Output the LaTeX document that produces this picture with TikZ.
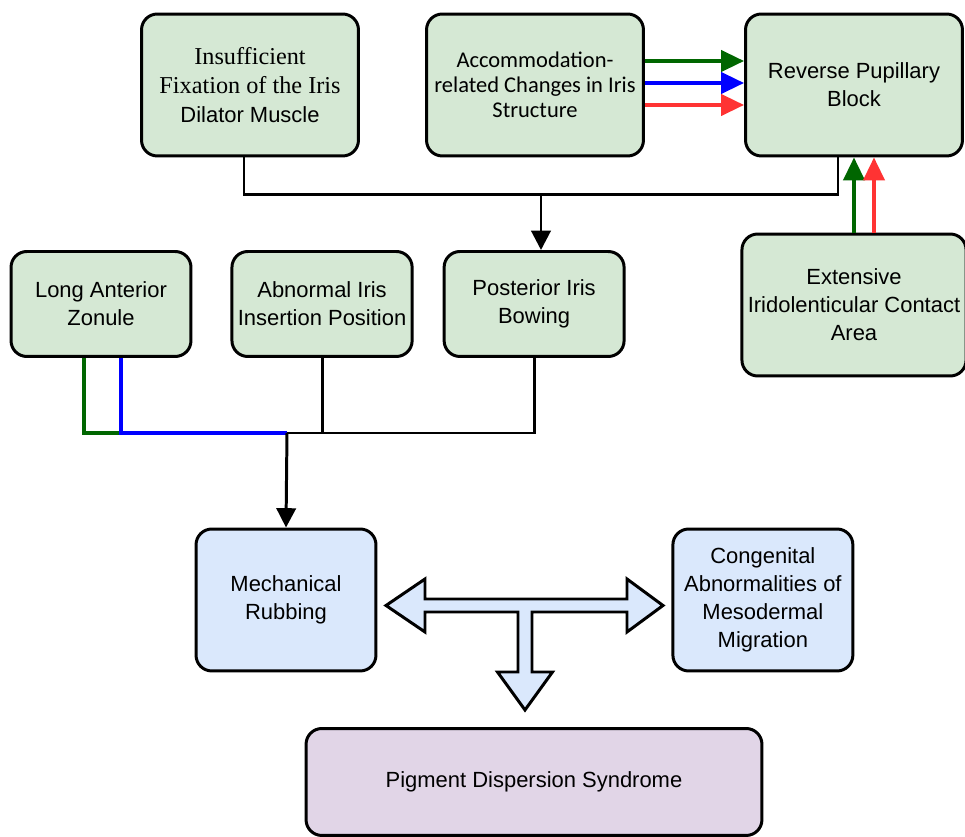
\documentclass[tikz,border=0pt]{standalone}
\usepackage{fontspec}
\setmainfont{Liberation Sans}
\newfontfamily\serifpart{Liberation Serif}
\newfontfamily\calibripart{Carlito}
\usepackage{tikz}
\usetikzlibrary{arrows.meta, positioning, calc}
\definecolor{mygreen}{RGB}{0,102,0}
\definecolor{myblue}{RGB}{0,0,255}
\definecolor{myred}{RGB}{255,51,51}
\definecolor{fillgreen}{RGB}{213,232,212}
\definecolor{fillblue}{RGB}{218,232,252}
\definecolor{fillpurple}{RGB}{225,213,231}
\tikzset{
  causebox/.style={rectangle, draw=black, fill=fillgreen,
    minimum width=4.34cm, minimum height=2.84cm, align=center,
    font=\fontsize{12.5}{16}\selectfont, rounded corners=9pt, line width=1.7pt},
  smallcause/.style={causebox, minimum width=3.6cm, minimum height=2.1cm},
  effectbox/.style={causebox, fill=fillblue, minimum width=3.6cm},
  finalbox/.style={causebox, fill=fillpurple, minimum width=9.12cm, minimum height=2.14cm},
  arrow/.style={-{Triangle[length=11pt, width=11pt]}, line width=1.7pt, color=black},
  greenarrow/.style={-{Triangle[length=13pt, width=12pt]}, line width=2pt, color=mygreen},
  bluearrow/.style={greenarrow, color=myblue},
  redarrow/.style={greenarrow, color=myred},
  line/.style={line width=1.7pt, color=black},
  greenline/.style={line width=2pt, color=mygreen},
  blueline/.style={line width=2pt, color=myblue},
  blockarrow/.style={draw=black, fill=fillblue, line width=1.7pt, line join=miter}
}
\begin{document}
\begin{tikzpicture}[x=0.02cm, y=-0.02cm]
  \useasboundingbox (0,0) rectangle (965,837);

  % top row
  \node[causebox, font=\serifpart\fontsize{13.8}{16.5}\selectfont] (fix) at (250,85)
    {Insufficient\\Fixation of the Iris\\{\normalfont\fontsize{12.5}{16}\selectfont Dilator Muscle}};
  \node[causebox, font=\calibripart\fontsize{12.8}{14.3}\selectfont] (accom) at (535,85)
    {Accommodation-\\related Changes in Iris\\Structure};
  \node[causebox] (block) at (854,85) {Reverse Pupillary\\Block};
  \node[causebox] (contact) at (854,305) {Extensive\\Iridolenticular Contact\\Area};

  % middle row
  \node[smallcause] (zonule) at (101,304) {Long Anterior\\Zonule};
  \node[smallcause, right=0.76cm of zonule] (insert) {Abnormal Iris\\Insertion Position};
  \node[smallcause, right=0.58cm of insert] (bowing) {Posterior Iris\\Bowing};

  % bottom
  \node[effectbox] (rubbing) at (286,600) {Mechanical\\Rubbing};
  \node[effectbox, right=5.88cm of rubbing] (meso) {Congenital\\Abnormalities of\\Mesodermal\\Migration};
  \node[finalbox] (pds) at (534,782) {Pigment Dispersion Syndrome};

  \coordinate (topjoin) at (541,194);
  \coordinate (lowjoin) at (287,433);
  \coordinate (fork) at (525,605.5);

  \draw[line] ([xshift=-0.12cm]fix.south) -- ++(0,37) -| ([xshift=-0.32cm]block.south);
  \draw[arrow] (topjoin) -- (topjoin |- bowing.north);

  \draw[greenarrow] ([yshift=0.48cm]accom.east) -- ([yshift=0.48cm]block.west);
  \draw[bluearrow] ([yshift=0.04cm]accom.east) -- ([yshift=0.04cm]block.west);
  \draw[redarrow] ([yshift=-0.4cm]accom.east) -- ([yshift=-0.4cm]block.west);
  \draw[greenarrow] (contact.north) -- (block.south);
  \draw[redarrow] ([xshift=0.4cm]contact.north) -- ([xshift=0.4cm]block.south);

  \draw[greenline] ([xshift=-0.34cm]zonule.south) -- ++(0,75) -- ++(37,0);
  \draw[blueline] ([xshift=0.4cm]zonule.south) |- (lowjoin);
  \draw[line] (lowjoin) -| (bowing.south);
  \draw[line] (insert.south) -- (insert.south |- lowjoin);
  \draw[arrow] (lowjoin) -- (rubbing.north);

  % block arrow to the syndrome
  \draw[blockarrow, shift={(fork)}] (-139,0) -- (-100,-26.5) -- (-100,-6.5) -- (102,-6.5)
    -- (102,-26.5) -- (138,0) -- (102,26.5) -- (102,6.5) -- (7,6.5) -- (7,66.5)
    -- (27.5,66.5) -- (0,104.5) -- (-27.5,66.5) -- (-7,66.5) -- (-7,6.5)
    -- (-100,6.5) -- (-100,26.5) -- cycle;
\end{tikzpicture}
\end{document}
